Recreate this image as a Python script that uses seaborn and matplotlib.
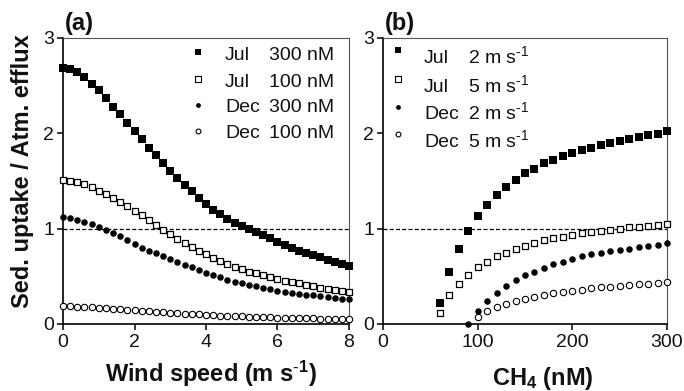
import matplotlib
matplotlib.use("Agg")
import matplotlib.pyplot as plt
import numpy as np
import pandas as pd
import seaborn as sns

# ---------------- data ----------------
wind = [0.0, 0.2, 0.4, 0.6, 0.8, 1.0, 1.2, 1.4, 1.6, 1.8, 2.0, 2.2, 2.4, 2.6, 2.8,
        3.0, 3.2, 3.4, 3.6, 3.8, 4.0, 4.2, 4.4, 4.6, 4.8, 5.0, 5.2, 5.4, 5.6, 5.8,
        6.0, 6.2, 6.4, 6.6, 6.8, 7.0, 7.2, 7.4, 7.6, 7.8, 8.0]
jul_300 = [2.69, 2.67, 2.64, 2.59, 2.52, 2.45, 2.37, 2.28, 2.20, 2.11, 2.02, 1.94, 1.85, 1.77, 1.69,
           1.61, 1.53, 1.46, 1.39, 1.32, 1.26, 1.20, 1.15, 1.10, 1.06, 1.03, 0.995, 0.965, 0.93, 0.90,
           0.865, 0.83, 0.80, 0.77, 0.745, 0.72, 0.70, 0.675, 0.655, 0.63, 0.61]
jul_100 = [1.51, 1.50, 1.49, 1.47, 1.44, 1.40, 1.36, 1.32, 1.28, 1.24, 1.19, 1.14, 1.09, 1.04, 0.99,
           0.94, 0.89, 0.85, 0.81, 0.77, 0.73, 0.69, 0.66, 0.63, 0.60, 0.58, 0.55, 0.53, 0.51, 0.49,
           0.47, 0.455, 0.44, 0.425, 0.41, 0.395, 0.38, 0.37, 0.36, 0.35, 0.34]
dec_300 = [1.12, 1.11, 1.09, 1.07, 1.05, 1.02, 0.99, 0.95, 0.92, 0.88, 0.84, 0.80, 0.77, 0.74, 0.71,
           0.68, 0.65, 0.62, 0.595, 0.57, 0.535, 0.51, 0.49, 0.465, 0.445, 0.43, 0.41, 0.395, 0.38, 0.365,
           0.35, 0.34, 0.33, 0.315, 0.305, 0.30, 0.29, 0.28, 0.27, 0.265, 0.26]
dec_100 = [0.185, 0.184, 0.182, 0.179, 0.175, 0.171, 0.166, 0.161, 0.156, 0.151, 0.145, 0.140, 0.134,
           0.129, 0.124, 0.119, 0.114, 0.109, 0.105, 0.101, 0.097, 0.093, 0.089, 0.086, 0.083, 0.080,
           0.077, 0.074, 0.072, 0.069, 0.067, 0.065, 0.063, 0.061, 0.059, 0.058, 0.056, 0.055, 0.053,
           0.052, 0.051]

ch4_jul = [60, 70, 80, 90, 100, 110, 120, 130, 140, 150, 160, 170, 180, 190, 200,
           210, 220, 230, 240, 250, 260, 270, 280, 290, 300]
jul_2ms = [0.22, 0.55, 0.79, 0.98, 1.13, 1.25, 1.355, 1.44, 1.51, 1.58, 1.63, 1.685, 1.72, 1.76, 1.79,
           1.825, 1.85, 1.88, 1.90, 1.92, 1.94, 1.96, 1.98, 1.995, 2.02]
jul_5ms = [0.12, 0.30, 0.42, 0.51, 0.60, 0.65, 0.71, 0.75, 0.79, 0.82, 0.85, 0.88, 0.90, 0.915, 0.935,
           0.95, 0.97, 0.98, 0.99, 1.00, 1.015, 1.02, 1.03, 1.035, 1.045]
ch4_dec2 = [90, 100, 110, 120, 130, 140, 150, 160, 170, 180, 190, 200,
            210, 220, 230, 240, 250, 260, 270, 280, 290, 300]
dec_2ms = [0.0, 0.14, 0.24, 0.33, 0.40, 0.46, 0.51, 0.55, 0.59, 0.625, 0.655, 0.68,
           0.71, 0.73, 0.75, 0.765, 0.78, 0.79, 0.805, 0.815, 0.825, 0.845]
ch4_dec5 = [100, 110, 120, 130, 140, 150, 160, 170, 180, 190, 200,
            210, 220, 230, 240, 250, 260, 270, 280, 290, 300]
dec_5ms = [0.077, 0.14, 0.175, 0.21, 0.24, 0.26, 0.285, 0.30, 0.32, 0.335, 0.35,
           0.36, 0.375, 0.385, 0.39, 0.40, 0.41, 0.415, 0.42, 0.43, 0.44]

legend_month = ["Jul", "Jul", "Dec", "Dec"]
legend_conc = ["300 nM", "100 nM", "300 nM", "100 nM"]
legend_wind = [r"2 m s$^{\text{-}1}$", r"5 m s$^{\text{-}1}$",
               r"2 m s$^{\text{-}1}$", r"5 m s$^{\text{-}1}$"]

xticks_a = [0, 2, 4, 6, 8]
xticks_b = [0, 100, 200, 300]
yticks = [0, 1, 2, 3]

# ---------------- style ----------------
sns.set_theme(style="ticks")
plt.rcParams["font.family"] = ["Liberation Sans", "DejaVu Sans"]
plt.rcParams["mathtext.fontset"] = "custom"
plt.rcParams["mathtext.rm"] = "Liberation Sans"
plt.rcParams["mathtext.bf"] = "Liberation Sans:bold"
plt.rcParams["mathtext.it"] = "Liberation Sans:italic"

W, H = 684, 391
fig = plt.figure(figsize=(W / 100, H / 100), dpi=100)
fig.patch.set_facecolor("white")

def fx(px):
    return px / W

def fy(py):
    return 1 - py / H

axa = fig.add_axes([fx(63), fy(324), 286 / W, 286 / H])
axb = fig.add_axes([fx(383), fy(324), 284 / W, 286 / H])

# marker styles: filled square, open square, filled circle, open circle
styles = [
    dict(marker="s", s=26, color="black", edgecolor="black", linewidth=0),
    dict(marker="s", s=22, color="white", edgecolor="black", linewidth=0.9),
    dict(marker="o", s=22, color="black", edgecolor="black", linewidth=0),
    dict(marker="o", s=21, color="white", edgecolor="black", linewidth=0.8),
]

series_a = [(wind, jul_300), (wind, jul_100), (wind, dec_300), (wind, dec_100)]
series_b = [(ch4_jul, jul_2ms), (ch4_jul, jul_5ms), (ch4_dec2, dec_2ms), (ch4_dec5, dec_5ms)]

for ax, series in ((axa, series_a), (axb, series_b)):
    ax.axhline(1, color="black", lw=0.9, ls=(0, (3.2, 1.8)), zorder=1)
    for (xs, ys), st in zip(series, styles):
        df = pd.DataFrame({"x": xs, "y": ys})
        sns.scatterplot(data=df, x="x", y="y", ax=ax, clip_on=False, zorder=3,
                        legend=False, **st)

axa.set_xlim(0, 8)
axb.set_xlim(0, 300)
axa.set_xticks(xticks_a)
axb.set_xticks(xticks_b)
for ax in (axa, axb):
    ax.set_ylim(0, 3)
    ax.set_yticks(yticks)
    ax.set_xlabel("")
    ax.set_ylabel("")
    ax.tick_params(direction="out", length=4.5, width=1.1, labelsize=14,
                   color="black", labelcolor="#111111", pad=2)
    ax.tick_params(axis="x", pad=3)
    for side in ("left", "bottom"):
        ax.spines[side].set_linewidth(1.2)
        ax.spines[side].set_color("black")
    for side in ("top", "right"):
        ax.spines[side].set_visible(True)
        ax.spines[side].set_linewidth(0.8)
        ax.spines[side].set_color("#555555")
    ax.set_facecolor("white")

# ---------------- legends (manual) ----------------
leg_styles = [
    dict(marker="s", s=15, color="black", edgecolor="black", linewidth=0),
    dict(marker="s", s=13, color="white", edgecolor="black", linewidth=0.8),
    dict(marker="o", s=12, color="black", edgecolor="black", linewidth=0),
    dict(marker="o", s=12, color="white", edgecolor="black", linewidth=0.8),
]
mk_y_a = [52.3, 79, 105, 130.7]
base_a = [60, 86.7, 112, 138.3]
for i in range(4):
    axa.scatter([fx(198)], [fy(mk_y_a[i])], transform=fig.transFigure, clip_on=False,
                zorder=5, **leg_styles[i])
    fig.text(fx(225), fy(base_a[i]), legend_month[i], fontsize=14, va="baseline", color="#111111")
    fig.text(fx(269), fy(base_a[i]), legend_conc[i], fontsize=14, va="baseline", color="#111111")

mk_y_b = [50, 79, 107, 134]
base_b = [63, 92, 119, 147]
for i in range(4):
    axb.scatter([fx(397.7)], [fy(mk_y_b[i])], transform=fig.transFigure, clip_on=False,
                zorder=5, **leg_styles[i])
    fig.text(fx(424), fy(base_b[i]), legend_month[i], fontsize=14, va="baseline", color="#111111")
    fig.text(fx(468), fy(base_b[i]), legend_wind[i], fontsize=14, va="baseline", color="#111111")

# ---------------- labels ----------------
fig.text(fx(22.5), fy(171.5), "Sed. uptake / Atm. efflux", rotation=90, ha="center",
         va="center", fontsize=17, fontweight="bold", color="#111111")
fig.text(fx(211), fy(382), r"Wind speed (m s$^{\mathbf{\text{-}1}}$)", ha="center",
         va="baseline", fontsize=17, fontweight="bold", color="#111111")
fig.text(fx(542.5), fy(385), r"CH$_{\mathbf{4}}$ (nM)", ha="center", va="baseline",
         fontsize=17, fontweight="bold", color="#111111")
fig.text(fx(65), fy(30), "(a)", ha="left", va="baseline", fontsize=17, fontweight="bold",
         color="#111111")
fig.text(fx(385), fy(30), "(b)", ha="left", va="baseline", fontsize=17, fontweight="bold",
         color="#111111")

fig.savefig("out.png", dpi=100, facecolor="white")
